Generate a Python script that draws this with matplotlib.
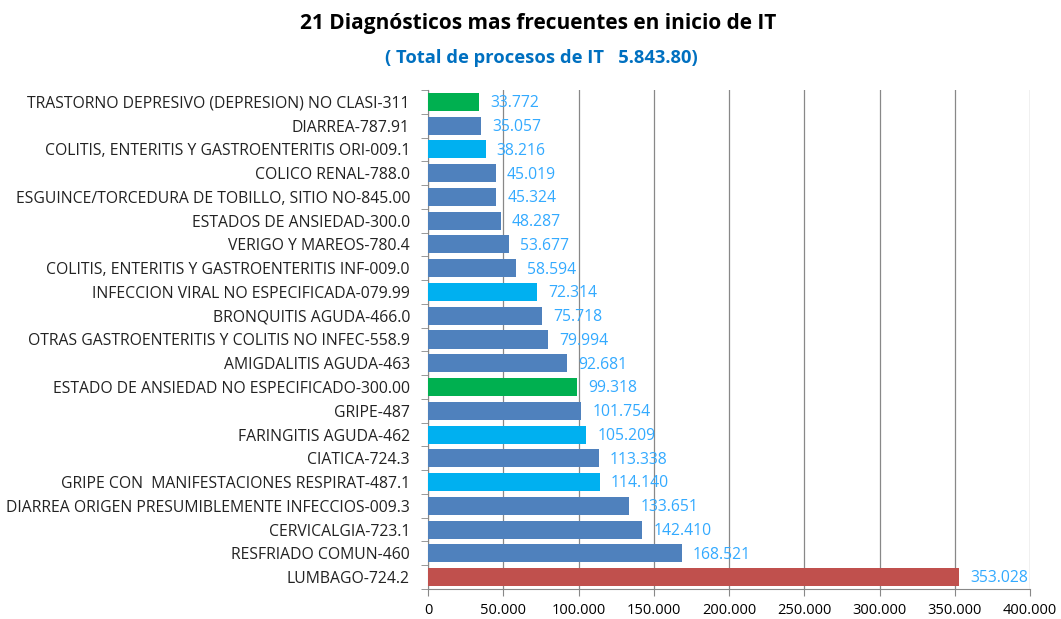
import matplotlib.pyplot as plt
from matplotlib.ticker import FuncFormatter

plt.rcParams['font.family'] = ['Open Sans', 'DejaVu Sans']

# datos (de arriba a abajo)
diagnosticos = [
    "TRASTORNO DEPRESIVO (DEPRESION) NO CLASI-311",
    "DIARREA-787.91",
    "COLITIS, ENTERITIS Y GASTROENTERITIS ORI-009.1",
    "COLICO RENAL-788.0",
    "ESGUINCE/TORCEDURA DE TOBILLO, SITIO NO-845.00",
    "ESTADOS DE ANSIEDAD-300.0",
    "VERIGO Y MAREOS-780.4",
    "COLITIS, ENTERITIS Y GASTROENTERITIS INF-009.0",
    "INFECCION VIRAL NO ESPECIFICADA-079.99",
    "BRONQUITIS AGUDA-466.0",
    "OTRAS GASTROENTERITIS Y COLITIS NO INFEC-558.9",
    "AMIGDALITIS AGUDA-463",
    "ESTADO DE ANSIEDAD NO ESPECIFICADO-300.00",
    "GRIPE-487",
    "FARINGITIS AGUDA-462",
    "CIATICA-724.3",
    "GRIPE CON  MANIFESTACIONES RESPIRAT-487.1",
    "DIARREA ORIGEN PRESUMIBLEMENTE INFECCIOS-009.3",
    "CERVICALGIA-723.1",
    "RESFRIADO COMUN-460",
    "LUMBAGO-724.2",
]
procesos = [33772, 35057, 38216, 45019, 45324, 48287, 53677, 58594, 72314,
            75718, 79994, 92681, 99318, 101754, 105209, 113338, 114140,
            133651, 142410, 168521, 353028]
grupo = ["v", "a", "c", "a", "a", "a", "a", "a", "c", "a", "a", "a", "v",
         "a", "c", "a", "c", "a", "a", "a", "r"]

colores = {"a": "#4F81BD", "c": "#00B0F0", "v": "#00B050", "r": "#C0504D"}


def miles(v):
    return f"{int(v):,}".replace(",", ".")


fig = plt.figure(figsize=(10.61, 6.19), dpi=100)
ax = fig.add_axes([0.4034, 0.0485, 0.5674, 0.8061])

n = len(diagnosticos)
pos = list(range(n))[::-1]
ax.barh(pos, procesos, height=0.76, color=[colores[g] for g in grupo], zorder=3)

for y, v in zip(pos, procesos):
    ax.annotate(miles(v), (v, y), xytext=(8, -1), textcoords="offset points",
                va="center", ha="left", fontsize=11.3, color="#33AAFF")

ax.set_xlim(0, 400000)
ax.set_ylim(-0.5, n - 0.5)
ax.set_xticks(range(0, 400001, 50000))
ax.xaxis.set_major_formatter(FuncFormatter(lambda v, p: miles(v)))
ax.set_yticks(pos)
ax.set_yticklabels(diagnosticos, fontsize=11.3, color="#222222")
ax.set_yticks([i + 0.5 for i in range(-1, n)], minor=True)
ax.tick_params(axis="y", which="major", length=0, pad=13)
ax.tick_params(axis="y", which="minor", length=5, color="#888888")
ax.tick_params(axis="x", length=5, color="#888888", labelsize=10.5, pad=5)

ax.grid(axis="x", color="#888888", linewidth=0.9, zorder=0)
for s in ["top", "right"]:
    ax.spines[s].set_visible(False)
for s in ["left", "bottom"]:
    ax.spines[s].set_color("#888888")

fig.text(0.507, 0.962, "21 Diagnósticos mas frecuentes en inicio de IT",
         ha="center", va="center", fontsize=15, fontweight="bold")
fig.text(0.51, 0.907, "( Total de procesos de IT   5.843.80)",
         ha="center", va="center", fontsize=13.2, fontweight="bold", color="#0070C0")

fig.savefig("out.png", dpi=100)
